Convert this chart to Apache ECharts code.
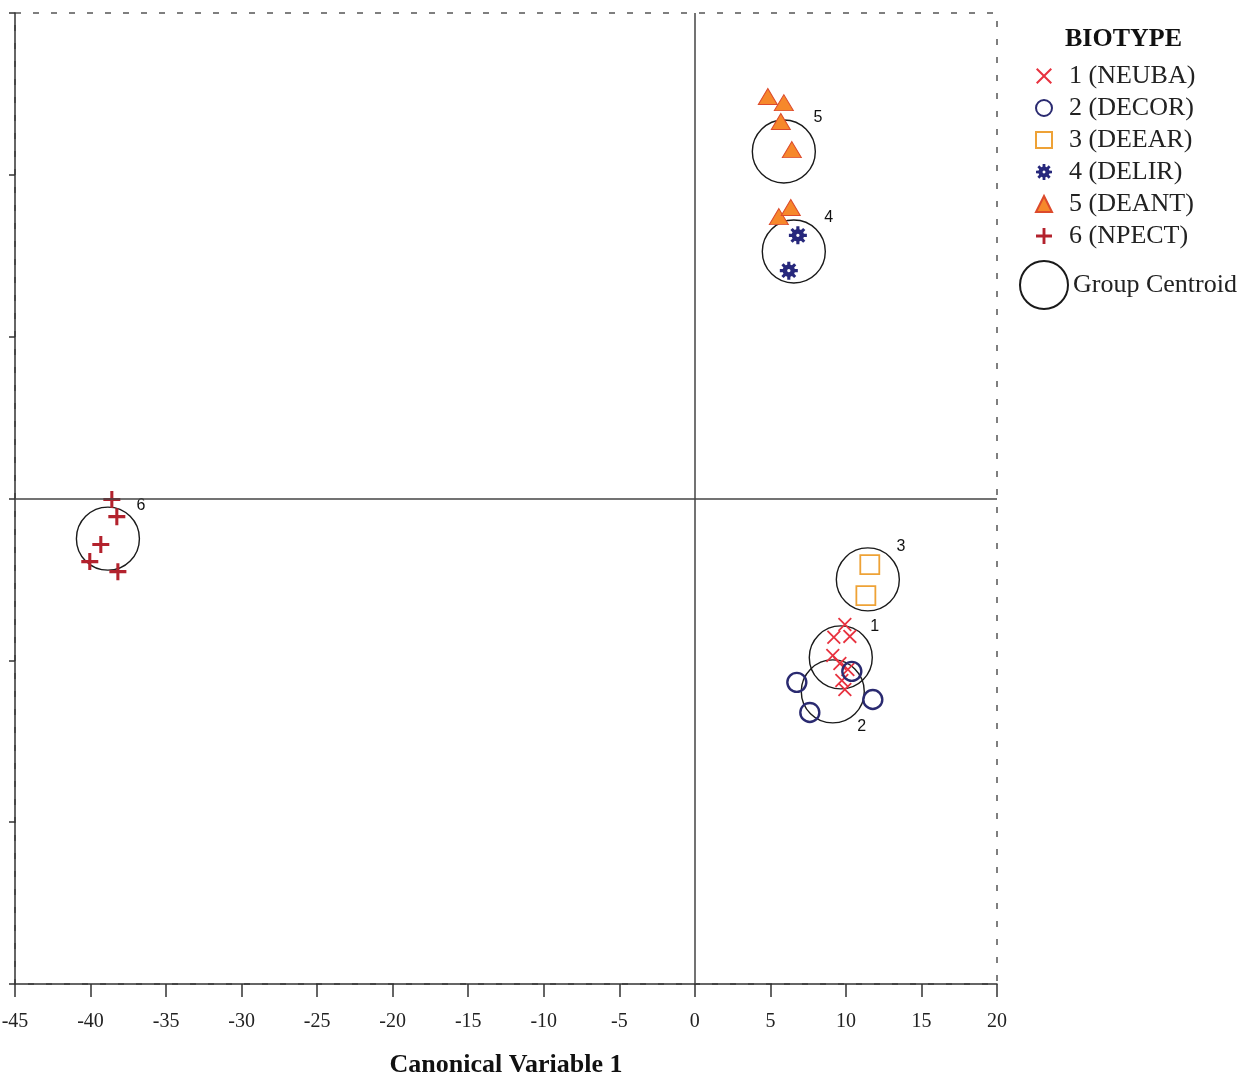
<!DOCTYPE html>
<html>
<head>
<meta charset="utf-8">
<script src="https://cdn.jsdelivr.net/npm/echarts@6/dist/echarts.min.js"></script>
<style>html,body{margin:0;padding:0;background:#fff}#c{width:1245px;height:1080px}</style>
</head>
<body>
<div id="c"></div>
<script>
// ---- data (Canonical Variable 1, Canonical Variable 2) ----
var seriesNames = ['1 (NEUBA)', '2 (DECOR)', '3 (DEEAR)', '4 (DELIR)', '5 (DEANT)', '6 (NPECT)'];
var neuba = [[9.93,-3.89],[9.20,-4.29],[10.26,-4.26],[9.13,-4.85],[9.60,-5.10],[10.13,-5.28],[9.73,-5.62],[9.93,-5.90]];
var decor = [[6.75,-5.68],[7.61,-6.61],[11.78,-6.21],[10.39,-5.34]];
var deear = [[11.58,-2.04],[11.32,-3.00]];
var delir = [[6.82,8.13],[6.22,7.04]];
var deant = [[4.83,12.42],[5.89,12.23],[5.69,11.65],[6.42,10.78],[5.56,8.71],[6.35,8.99]];
var npect = [[-38.59,-0.03],[-38.26,-0.56],[-39.32,-1.42],[-40.05,-1.95],[-38.19,-2.26]];
var centroidLabels = ['1','2','3','4','5','6'];
var centroids = [[9.66,-4.91],[9.13,-5.96],[11.45,-2.50],[6.55,7.63],[5.89,10.72],[-38.85,-1.24]];
var xTicks = {min:-45, max:20, interval:5};
var yTicks = {min:-15, max:15, interval:5};

// ---- symbol shapes ----
function gearPath(){
  var s = '', n = 8, cx = 10, cy = 10;
  for (var k = 0; k < n; k++) {
    var b = k * Math.PI * 2 / n;
    var pts = [[b-0.26,6.8],[b-0.17,10],[b+0.17,10],[b+0.26,6.8]];
    pts.forEach(function(p, i){
      var x = (cx + p[1]*Math.cos(p[0])).toFixed(2), y = (cy + p[1]*Math.sin(p[0])).toFixed(2);
      s += (k===0 && i===0 ? 'M' : 'L') + x + ' ' + y + ' ';
    });
  }
  s += 'Z ';
  for (var j = 0; j <= 12; j++) {
    var a = -j * Math.PI * 2 / 12, r = 1.8;
    s += (j===0 ? 'M' : 'L') + (cx + r*Math.cos(a)).toFixed(2) + ' ' + (cy + r*Math.sin(a)).toFixed(2) + ' ';
  }
  s += 'Z';
  return 'path://' + s;
}
var xSym = 'path://M0.9 0L5 4.1L9.1 0L10 0.9L5.9 5L10 9.1L9.1 10L5 5.9L0.9 10L0 9.1L4.1 5L0 0.9Z';
var plusSym = 'path://M4.1 0H5.9V4.1H10V5.9H5.9V10H4.1V5.9H0V4.1H4.1Z';
var gearSym = gearPath();

var serif = 'Liberation Serif, Times New Roman, serif';
var labelOffsets = [[34,-31],[29,35],[33,-33],[35,-34],[34,-34],[33,-33]];

var chart = echarts.init(document.getElementById('c'), null, {renderer:'canvas'});
var option = {
  animation: false,
  backgroundColor: '#fff',
  title: {
    text: 'BIOTYPE', left: 1060, top: 21,
    textStyle: {fontFamily: serif, fontSize: 26, fontWeight: 'bold', color: '#111'}
  },
  grid: {
    left: 15, right: 248, top: 13, bottom: 96,
    outerBoundsMode: 'none', containLabel: false,
    show: true, borderColor: '#555', borderWidth: 1.5, borderType: [6, 12]
  },
  legend: [{
    data: seriesNames,
    orient: 'vertical', left: 1030, top: 58,
    itemWidth: 16, itemHeight: 16, itemGap: 6,
    selectedMode: false,
    textStyle: {fontFamily: serif, fontSize: 26, color: '#222', padding: [0,0,0,12]}
  }, {
    data: ['Group Centroid'],
    orient: 'vertical', left: 1014, top: 255,
    itemWidth: 48, itemHeight: 48,
    selectedMode: false,
    textStyle: {fontFamily: serif, fontSize: 26, color: '#222', padding: [0,0,0,0]}
  }],
  xAxis: {
    type: 'value', min: xTicks.min, max: xTicks.max, interval: xTicks.interval,
    name: 'Canonical Variable 1', nameLocation: 'middle', nameGap: 68,
    nameTextStyle: {fontFamily: serif, fontSize: 26, fontWeight: 'bold', color: '#111'},
    splitLine: {show: false},
    axisLine: {onZero: false, lineStyle: {color: '#333', width: 1.5}},
    axisTick: {length: 13, lineStyle: {color: '#333', width: 1.5}},
    axisLabel: {fontFamily: serif, fontSize: 20, color: '#222', margin: 28}
  },
  yAxis: {
    type: 'value', min: yTicks.min, max: yTicks.max, interval: yTicks.interval,
    splitLine: {show: false},
    axisLine: {onZero: false, lineStyle: {color: '#333', width: 1.5}},
    axisTick: {length: 6, lineStyle: {color: '#333', width: 1.5}},
    axisLabel: {show: false}
  },
  series: [
    {
      name: 'Group Centroid', type: 'scatter', z: 2,
      symbol: 'circle', symbolSize: 63,
      itemStyle: {color: 'rgba(0,0,0,0)', borderColor: '#1a1a1a', borderWidth: 1.4, opacity: 1},
      label: {show: true, position: 'inside', fontFamily: 'Liberation Sans, Arial, sans-serif', fontSize: 16, color: '#111',
        formatter: function(p){ return centroidLabels[p.dataIndex]; }},
      data: centroids.map(function(c, i){ return {value: c, label: {offset: labelOffsets[i]}}; }),
      markLine: {
        silent: true, symbol: 'none', animation: false,
        label: {show: false},
        lineStyle: {color: '#444', width: 1.5, type: 'solid'},
        data: [{xAxis: 0}, {yAxis: 0}]
      }
    },
    {name: seriesNames[0], type: 'scatter', z: 3, symbol: xSym, symbolSize: 14,
      itemStyle: {color: '#e8323f', opacity: 1}, data: neuba},
    {name: seriesNames[1], type: 'scatter', z: 3, symbol: 'circle', symbolSize: 19,
      itemStyle: {color: 'rgba(0,0,0,0)', borderColor: '#2a2a70', borderWidth: 2.4, opacity: 1}, data: decor},
    {name: seriesNames[2], type: 'scatter', z: 3, symbol: 'rect', symbolSize: 19,
      itemStyle: {color: 'rgba(0,0,0,0)', borderColor: '#eea236', borderWidth: 1.8, opacity: 1}, data: deear},
    {name: seriesNames[3], type: 'scatter', z: 3, symbol: gearSym, symbolSize: 18,
      itemStyle: {color: '#27287c', opacity: 1}, data: delir},
    {name: seriesNames[4], type: 'scatter', z: 3, symbol: 'triangle', symbolSize: [19, 16],
      itemStyle: {color: '#f6882b', borderColor: '#dc4a2c', borderWidth: 1, opacity: 1}, data: deant},
    {name: seriesNames[5], type: 'scatter', z: 3, symbol: plusSym, symbolSize: 17,
      itemStyle: {color: '#b3222d', opacity: 1}, data: npect}
  ]
};
chart.setOption(option);
</script>
</body>
</html>
